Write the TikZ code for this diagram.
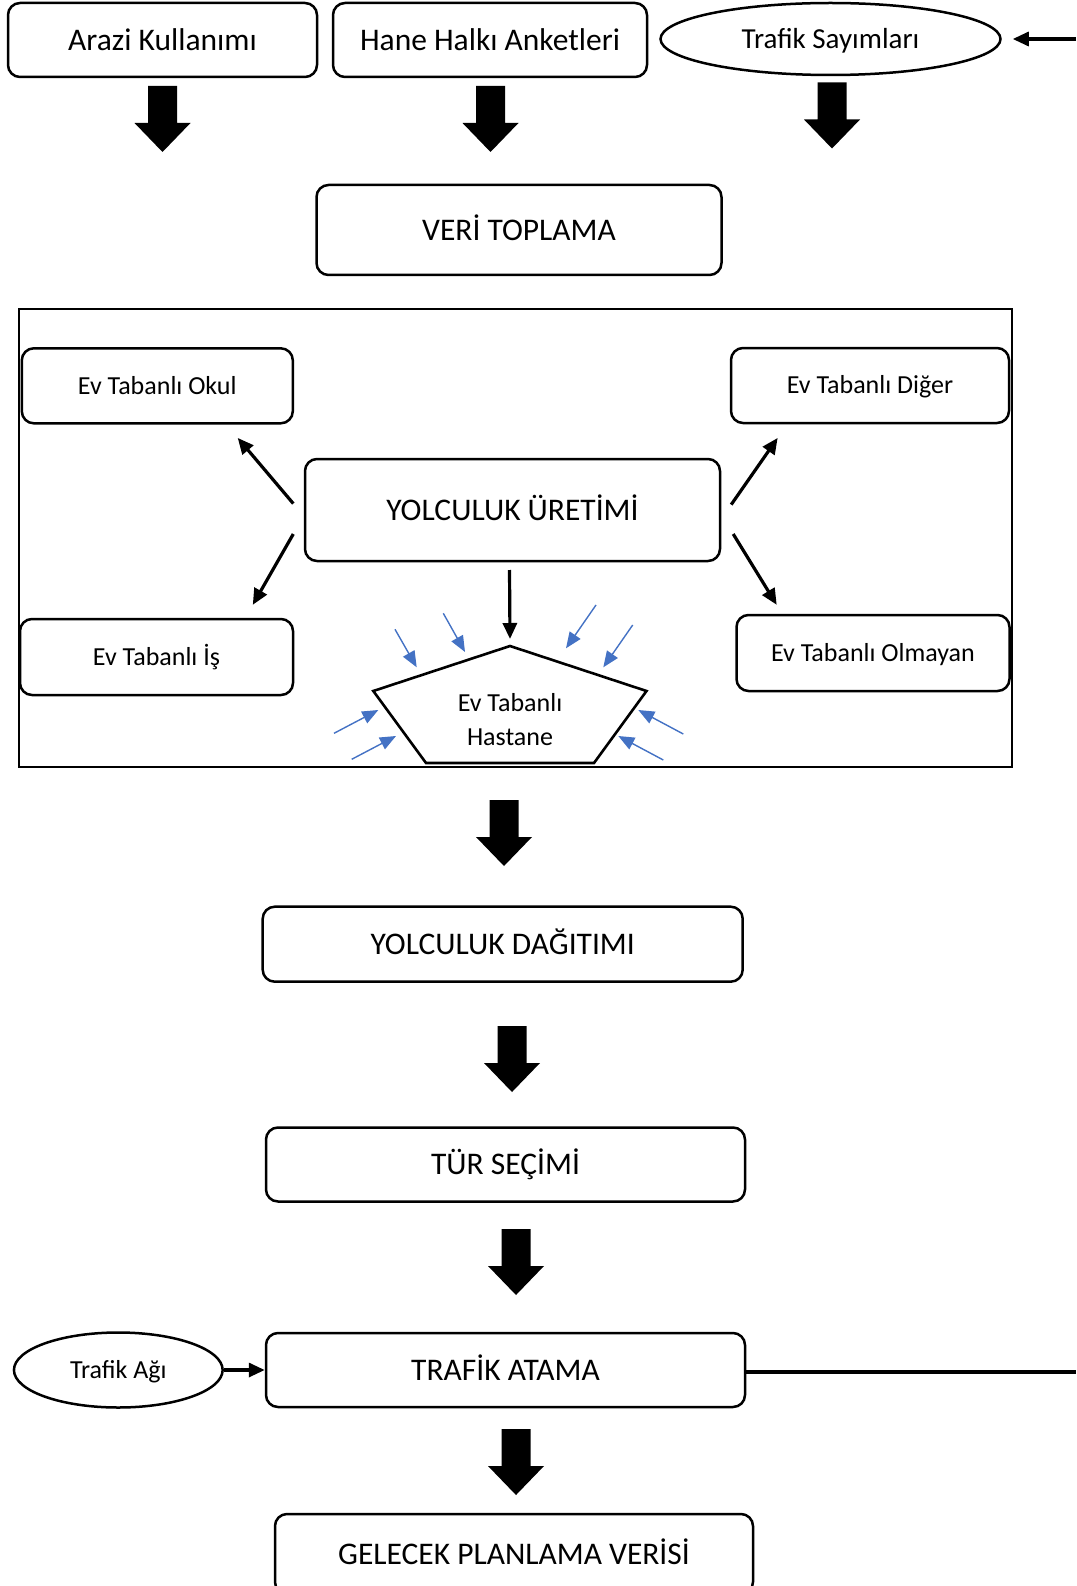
\documentclass[tikz,border=0pt]{standalone}
\usepackage{fontspec}
\setmainfont{Carlito}
\usetikzlibrary{shapes.geometric,arrows.meta}
\definecolor{arrowblue}{HTML}{4472C4}
\begin{document}
\begin{tikzpicture}[x=1pt,y=-1pt,
  box/.style={draw, line width=2.5pt, rounded corners=12pt, inner sep=0pt},
  oval/.style={draw, ellipse, line width=2.5pt, inner sep=0pt},
  bigtxt/.style={font=\fontsize{31.5}{38}\selectfont, text height=20.3pt, text depth=0pt},
  midtxt/.style={font=\fontsize{29}{35}\selectfont, text height=18.7pt, text depth=0pt},
  smalltxt/.style={font=\fontsize{26}{31}\selectfont, text height=16.7pt, text depth=0pt},
  blk/.style={line width=3.2pt, -{Triangle[length=16pt,width=14pt]}},
  blu/.style={draw=arrowblue, line width=1.4pt, -{Triangle[length=16pt,width=13pt]}},
  barrow/.pic={\fill (-14.5,0) -- (14.5,0) -- (14.5,37) -- (28,37) -- (0,66) -- (-28,37) -- (-14.5,37) -- cycle;}
]
\useasboundingbox (0,0) rectangle (1076,1586);

% top row
\node[box,bigtxt,minimum width=309,minimum height=74] (arazi) at (162.5,40) {Arazi Kullanımı};
\node[box,bigtxt,minimum width=314,minimum height=74] (hane) at (490,40) {Hane Halkı Anketleri};
\node[oval,midtxt,minimum width=340,minimum height=72] (sayim) at (830.5,39) {Trafik Sayımları};
\coordinate (rin) at (1076,39);
\draw[blk] (rin) -- ([xshift=11pt]sayim.east);

\pic (ba1) at (162.5,86) {barrow};
\pic (ba2) at (490.5,86) {barrow};
\pic (ba3) at (832,82.5) {barrow};

\node[box,bigtxt,minimum width=405,minimum height=90] (veri) at (519,230) {VERİ TOPLAMA};

% frame
\node[draw,line width=2.2pt,minimum width=993,minimum height=458,inner sep=0pt] (frame) at (515.5,538) {};
\node[box,smalltxt,minimum width=271,minimum height=75] (okul) at (157.3,385.8) {Ev Tabanlı Okul};
\node[box,smalltxt,minimum width=278,minimum height=75] (diger) at (870,385.5) {Ev Tabanlı Diğer};
\node[box,bigtxt,minimum width=415,minimum height=102] (uretim) at (512.5,510) {YOLCULUK ÜRETİMİ};
\node[box,smalltxt,minimum width=273,minimum height=76] (is) at (156.5,657) {Ev Tabanlı İş};
\node[box,smalltxt,minimum width=273,minimum height=76] (olmayan) at (873,653) {Ev Tabanlı Olmayan};

% arrows from uretim
\coordinate (u1) at (293.3,503.6); \coordinate (t1) at (237.7,437.9);
\coordinate (u2) at (293.3,534);   \coordinate (t2) at (252.8,604.8);
\coordinate (u3) at (731.2,504.6); \coordinate (t3) at (777.7,437.9);
\coordinate (u4) at (733.2,534);   \coordinate (t4) at (776.7,604.8);
\draw[blk] (u1) -- (t1);
\draw[blk] (u2) -- (t2);
\draw[blk] (u3) -- (t3);
\draw[blk] (u4) -- (t4);

% pentagon
\coordinate (ptop) at (510,646);
\coordinate (pright) at (646.5,691);
\coordinate (pbr) at (594,763);
\coordinate (pbl) at (426,763);
\coordinate (pleft) at (373.3,691);
\draw[line width=2.6pt, line join=miter] (ptop) -- (pright) -- (pbr) -- (pbl) -- (pleft) -- cycle;
\node[smalltxt, anchor=base, inner sep=0pt] (hastA) at (510,711.7) {Ev Tabanlı};
\node[smalltxt, anchor=base, inner sep=0pt] (hastB) at (510,745) {Hastane};
\coordinate (uin) at (509.5,570);
\draw[blk] (uin) -- ([yshift=7pt]ptop);

% blue arrows
\coordinate (b1s) at (395,629.3);   \coordinate (b1e) at (416.7,667.3);
\coordinate (b2s) at (443.3,613.3); \coordinate (b2e) at (465,652);
\coordinate (b3s) at (596,605);     \coordinate (b3e) at (566,648.3);
\coordinate (b4s) at (632.7,625);   \coordinate (b4e) at (603.3,667.3);
\coordinate (b5s) at (334,733.3);   \coordinate (b5e) at (378.3,710);
\coordinate (b6s) at (351.7,759.3); \coordinate (b6e) at (396,736);
\coordinate (b7s) at (683.3,734);   \coordinate (b7e) at (638.3,710);
\coordinate (b8s) at (663.3,760);   \coordinate (b8e) at (618.3,736);
\foreach \i in {1,...,8} {\draw[blu] (b\i s) -- (b\i e);}

\pic (ba4) at (504,800) {barrow};
\node[box,bigtxt,minimum width=480,minimum height=75] (dagitim) at (502.7,944.2) {YOLCULUK DAĞITIMI};
\pic (ba5) at (512,1026) {barrow};
\node[box,bigtxt,minimum width=479,minimum height=74] (tur) at (505.5,1164.5) {TÜR SEÇİMİ};
\pic (ba6) at (516,1229) {barrow};
\node[box,bigtxt,minimum width=479,minimum height=74] (atama) at (505.5,1370) {TRAFİK ATAMA};
\node[oval,smalltxt,minimum width=208.7,minimum height=75] (agi) at (118.3,1370) {Trafik Ağı};
\draw[blk] (agi.east) -- (atama.west);
\coordinate (rout) at (1076,1372);
\draw[line width=3.2pt] (atama.east |- rout) -- (rout);
\pic (ba7) at (516,1429) {barrow};
\node[box,bigtxt,minimum width=478,minimum height=80] (gelecek) at (514,1554) {GELECEK PLANLAMA VERİSİ};
\end{tikzpicture}
\end{document}
